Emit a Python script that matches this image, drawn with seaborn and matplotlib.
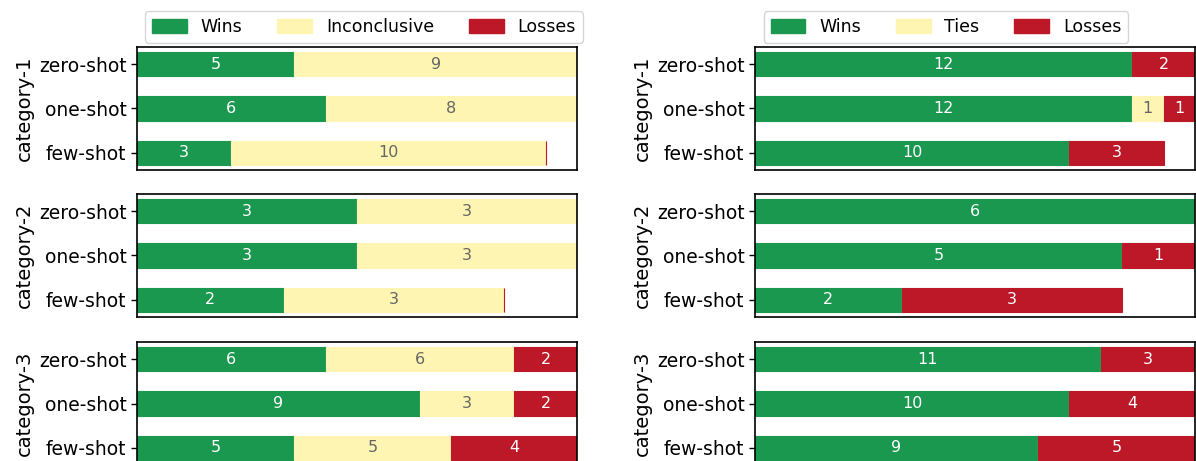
import matplotlib
matplotlib.use("Agg")
import matplotlib.pyplot as plt
import seaborn as sns
from matplotlib.patches import Patch

# --- data ---
shots = ["zero-shot", "one-shot", "few-shot"]
categories = ["category-1", "category-2", "category-3"]

left_segments = ["Wins", "Inconclusive", "Losses"]
left_wins = [[5, 6, 3], [3, 3, 2], [6, 9, 5]]
left_mid = [[9, 8, 10], [3, 3, 3], [6, 3, 5]]
left_losses = [[0, 0, 0], [0, 0, 0], [2, 2, 4]]

right_segments = ["Wins", "Ties", "Losses"]
right_wins = [[12, 12, 10], [6, 5, 2], [11, 10, 9]]
right_mid = [[0, 1, 0], [0, 0, 0], [0, 0, 0]]
right_losses = [[2, 1, 3], [0, 1, 3], [3, 4, 5]]

sns.set_style("white")
plt.rcParams["font.family"] = "DejaVu Sans"
plt.rcParams["text.color"] = "black"
plt.rcParams["axes.labelcolor"] = "black"
plt.rcParams["ytick.color"] = "black"

GREEN = "#1b9850"
YELLOW = "#fef5b2"
RED = "#bd1828"
colors = [GREEN, YELLOW, RED]
text_colors = ["white", "#666666", "white"]

fig = plt.figure(figsize=(11.96, 4.61), dpi=100)

W, H = 1196, 461
col_x = [137, 755]
row_top = [47, 194, 342]
ax_w, ax_h = 440, 123


def draw_panel(ax, wins, mid, losses, ylabel):
    totals = [w + m + l for w, m, l in zip(wins, mid, losses)]
    left = [0] * len(shots)
    for seg, col, tcol in zip([wins, mid, losses], colors, text_colors):
        ax.barh(range(len(shots)), seg, left=left, height=0.55,
                color=col, edgecolor=col, linewidth=0.8)
        for i, v in enumerate(seg):
            if v > 0:
                ax.text(left[i] + v / 2, i, str(v), ha="center", va="center",
                        color=tcol, fontsize=11.5)
        left = [a + b for a, b in zip(left, seg)]
    ax.set_xlim(0, max(totals))
    ax.set_ylim(2.39, -0.39)
    ax.set_yticks(range(len(shots)))
    ax.set_yticklabels(shots, fontsize=13.5)
    ax.set_xticks([])
    ax.set_ylabel(ylabel, fontsize=14)
    ax.tick_params(axis="y", left=True, length=4, width=1, color="black")
    for sp in ax.spines.values():
        sp.set_visible(True)
        sp.set_color("black")
        sp.set_linewidth(1.2)


for c, (wins_all, mid_all, loss_all) in enumerate(
        [(left_wins, left_mid, left_losses), (right_wins, right_mid, right_losses)]):
    for r in range(3):
        ax = fig.add_axes([col_x[c] / W, 1 - (row_top[r] + ax_h) / H, ax_w / W, ax_h / H])
        draw_panel(ax, wins_all[r], mid_all[r], loss_all[r], categories[r])

for names, cx in [(left_segments, 364), (right_segments, 946)]:
    handles = [Patch(facecolor=col, edgecolor=col, label=n) for n, col in zip(names, colors)]
    fig.legend(handles=handles, loc="center", bbox_to_anchor=(cx / W, 1 - 27 / H),
               ncol=3, fontsize=12.5, handlelength=2.0, handleheight=0.85,
               columnspacing=2.0, handletextpad=0.8, frameon=True)

fig.savefig("out.png", dpi=100)
